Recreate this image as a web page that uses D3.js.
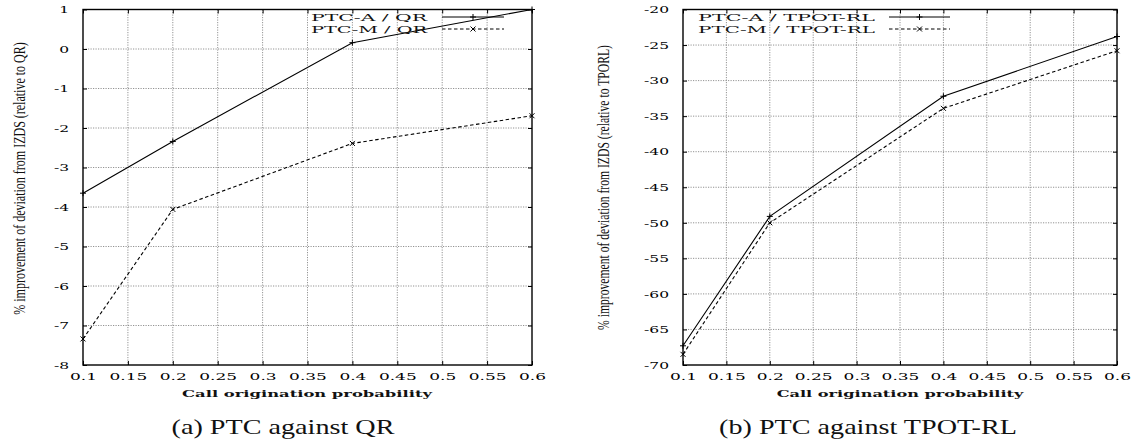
<!DOCTYPE html>
<html><head><meta charset="utf-8">
<script src="https://cdn.jsdelivr.net/npm/d3@7"></script>
<style>
body{margin:0;background:#fff;}
svg{display:block;}
</style></head>
<body>
<svg id="c" width="1137" height="444"></svg>
<script>
const xVals = [0.1, 0.2, 0.4, 0.6];
const xTicks = [0.1, 0.15, 0.2, 0.25, 0.3, 0.35, 0.4, 0.45, 0.5, 0.55, 0.6];
const xTickLabels = ["0.1","0.15","0.2","0.25","0.3","0.35","0.4","0.45","0.5","0.55","0.6"];

const qrA = [-3.65, -2.34, 0.16, 1.0];
const qrM = [-7.34, -4.06, -2.39, -1.69];
const qrTicks = [1, 0, -1, -2, -3, -4, -5, -6, -7, -8];

const tpA = [-67.3, -49.1, -32.2, -23.8];
const tpM = [-68.5, -50.0, -33.9, -25.8];
const tpTicks = [-20, -25, -30, -35, -40, -45, -50, -55, -60, -65, -70];

const svg = d3.select("#c");
const SX = 1.7;

// place a text and horizontally scale it to a target width
function fitText(g, opts){
  const t = g.append("text").attr("x", 0).attr("y", 0).attr("text-anchor", opts.anchor || "middle")
    .attr("font-family", opts.family).attr("font-size", opts.size).attr("fill", "#111")
    .attr("font-weight", opts.weight || "normal").text(opts.text);
  const w = t.node().getComputedTextLength();
  const s = w > 0 ? opts.width / w : 1;
  t.attr("transform", `translate(${opts.x},${opts.y})${opts.rotate ? " rotate(" + opts.rotate + ")" : ""} scale(${s},1)`);
  return t;
}

function panel(cfg){
  const g = svg.append("g");
  const x = d3.scaleLinear().domain([0.1, 0.6]).range([cfg.x0, cfg.x1]);
  const y = d3.scaleLinear().domain(cfg.yDomain).range([cfg.yb, cfg.yt]);

  // grid
  g.append("g").selectAll("line").data(xTicks.slice(1, -1)).join("line")
    .attr("x1", d => x(d)).attr("x2", d => x(d)).attr("y1", cfg.yt).attr("y2", cfg.yb)
    .attr("stroke", "#777").attr("stroke-width", 0.8).attr("stroke-dasharray", "1.2,1.3");
  g.append("g").selectAll("line").data(cfg.yTicks.slice(1, -1)).join("line")
    .attr("y1", d => y(d)).attr("y2", d => y(d)).attr("x1", cfg.x0).attr("x2", cfg.x1)
    .attr("stroke", "#777").attr("stroke-width", 0.8).attr("stroke-dasharray", "1.2,1.3");

  // axes
  const ax = g.append("g").attr("transform", `translate(0,${cfg.yb})`)
    .call(d3.axisBottom(x).tickValues(xTicks).tickFormat((d,i) => xTickLabels[i]).tickSizeInner(-4).tickSizeOuter(0).tickPadding(8));
  const axT = g.append("g").attr("transform", `translate(0,${cfg.yt})`)
    .call(d3.axisTop(x).tickValues(xTicks).tickFormat("").tickSizeInner(-4).tickSizeOuter(0));
  const ay = g.append("g").attr("transform", `translate(${cfg.x0},0)`)
    .call(d3.axisLeft(y).tickValues(cfg.yTicks).tickFormat(d => String(d)).tickSizeInner(-4).tickSizeOuter(0).tickPadding(14));
  const ayR = g.append("g").attr("transform", `translate(${cfg.x1},0)`)
    .call(d3.axisRight(y).tickValues(cfg.yTicks).tickFormat("").tickSizeInner(-4).tickSizeOuter(0));
  [ax, axT, ay, ayR].forEach(a => { a.select(".domain").remove(); a.selectAll("line").attr("stroke","#000").attr("stroke-width",1); });
  ax.selectAll("text").attr("font-family", "DejaVu Serif").attr("font-size", 10).attr("fill", "#000")
    .attr("transform", `scale(${SX},1)`);
  ay.selectAll("text").attr("font-family", "DejaVu Serif").attr("font-size", 10).attr("fill", "#000")
    .attr("x", -14 / 1.55).attr("transform", `scale(1.55,1)`);

  // frame
  g.append("rect").attr("x", cfg.x0).attr("y", cfg.yt).attr("width", cfg.x1 - cfg.x0).attr("height", cfg.yb - cfg.yt)
    .attr("fill", "none").attr("stroke", "#000").attr("stroke-width", 1.4);

  const line = d3.line().x((d,i) => x(xVals[i])).y(d => y(d));
  g.append("path").datum(cfg.a).attr("d", line).attr("fill","none").attr("stroke","#000").attr("stroke-width",1.1);
  g.append("path").datum(cfg.m).attr("d", line).attr("fill","none").attr("stroke","#000").attr("stroke-width",1.1).attr("stroke-dasharray","3.5,2.5");

  function plus(px, py){ g.append("path").attr("d", `M${px-3},${py}H${px+3}M${px},${py-3}V${py+3}`).attr("stroke","#000").attr("stroke-width",1); }
  function cross(px, py){ g.append("path").attr("d", `M${px-2.5},${py-2.5}L${px+2.5},${py+2.5}M${px-2.5},${py+2.5}L${px+2.5},${py-2.5}`).attr("stroke","#000").attr("stroke-width",1); }
  cfg.a.forEach((d,i) => plus(x(xVals[i]), y(d)));
  cfg.m.forEach((d,i) => cross(x(xVals[i]), y(d)));

  // legend
  const rows = [{t: cfg.labA, dash: null, mk: plus, y: 17}, {t: cfg.labM, dash: "3.5,2.5", mk: cross, y: 29}];
  rows.forEach(r => {
    fitText(g, {text: r.t, x: cfg.legTextEnd, y: r.y + 3.6, anchor: "end", family: "DejaVu Serif", size: 10, width: cfg.legW});
    g.append("line").attr("x1", cfg.legL0).attr("x2", cfg.legL1).attr("y1", r.y).attr("y2", r.y)
      .attr("stroke","#000").attr("stroke-width",1).attr("stroke-dasharray", r.dash);
    r.mk((cfg.legL0 + cfg.legL1) / 2, r.y);
  });

  // axis titles and caption
  fitText(g, {text: "Call origination probability", x: cfg.xtC, y: 397, family: "DejaVu Serif", weight: "bold", size: 10, width: cfg.xtW});
  fitText(g, {text: cfg.ytitle, x: cfg.ytX, y: cfg.ytC, rotate: -90, family: "Liberation Serif", size: 16, width: cfg.ytW});
  fitText(g, {text: cfg.caption, x: cfg.capC, y: 434, family: "Liberation Serif", size: 21, width: cfg.capW});
}

panel({x0: 83, x1: 532, yt: 9.5, yb: 365, yDomain: [-8, 1], yTicks: qrTicks, a: qrA, m: qrM,
  labA: "PTC-A / QR", labM: "PTC-M / QR", legTextEnd: 427, legW: 116, legL0: 442, legL1: 504,
  xtC: 307, xtW: 250, ytX: 25, ytC: 178.5, ytW: 273,
  ytitle: "% improvement of deviation from IZDS (relative to QR)", capC: 283, capW: 223, caption: "(a) PTC against QR"});
panel({x0: 683, x1: 1117, yt: 9.5, yb: 365, yDomain: [-70, -20], yTicks: tpTicks, a: tpA, m: tpM,
  labA: "PTC-A / TPOT-RL", labM: "PTC-M / TPOT-RL", legTextEnd: 875, legW: 177, legL0: 889, legL1: 950,
  xtC: 900, xtW: 247, ytX: 609, ytC: 187.5, ytW: 285,
  ytitle: "% improvement of deviation from IZDS (relative to TPORL)", capC: 868, capW: 298, caption: "(b) PTC against TPOT-RL"});
</script>
</body></html>
